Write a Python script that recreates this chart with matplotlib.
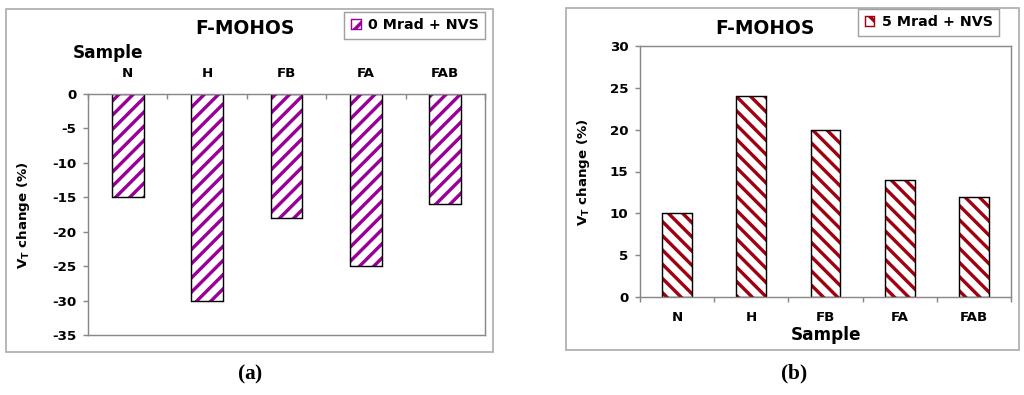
import matplotlib
matplotlib.use('Agg')
import matplotlib.pyplot as plt
import numpy as np
from matplotlib.patches import Rectangle, Patch

samples = ['N', 'H', 'FB', 'FA', 'FAB']
vt_0mrad = [-15, -30, -18, -25, -16]
vt_5mrad = [10, 24, 20, 14, 12]

plt.rcParams['font.family'] = 'DejaVu Sans'
plt.rcParams['font.weight'] = 'bold'
plt.rcParams['axes.labelweight'] = 'bold'
plt.rcParams['axes.unicode_minus'] = False
plt.rcParams['hatch.linewidth'] = 1.9
plt.rcParams['mathtext.fontset'] = 'custom'
plt.rcParams['mathtext.sf'] = 'DejaVu Sans:bold'
plt.rcParams['mathtext.rm'] = 'Liberation Serif'
plt.rcParams['mathtext.bf'] = 'Liberation Serif:bold'

W, H = 1024, 395
DPI = 128
fig = plt.figure(figsize=(W / DPI, H / DPI), dpi=DPI)

def fx(px):
    return px / W

def fy(py):
    return 1 - py / H

purple = '#990099'
red = '#a00010'
gray = '#888888'

# outer frames
for x0, y0, x1, y1 in [(6, 9, 493, 352), (566, 8, 1019, 350)]:
    fig.patches.append(Rectangle((fx(x0), fy(y1)), fx(x1 - x0), (y1 - y0) / H,
                                 transform=fig.transFigure, fill=False,
                                 edgecolor='#b0b0b0', linewidth=1.0))

def hatched_bars(ax, vals, color, hatch):
    x = np.arange(len(vals))
    ax.bar(x, vals, width=0.4, facecolor='white', edgecolor=color, hatch=hatch, linewidth=0)
    ax.bar(x, vals, width=0.4, fill=False, edgecolor='black', linewidth=0.8)
    ax.set_xlim(-0.5, len(vals) - 0.5)
    ax.set_xticks(x)
    ax.set_xticklabels(samples)
    ax.set_xticks(np.arange(len(vals) + 1) - 0.5, minor=True)
    for s in ax.spines.values():
        s.set_color(gray)
    ax.tick_params(axis='y', colors=gray, labelcolor='black', labelsize=7.5, length=3, width=0.8)
    ax.tick_params(axis='x', which='major', length=0, labelsize=7.5, labelcolor='black')
    ax.tick_params(axis='x', which='minor', colors=gray, length=3, width=0.8)

def legend_box(label, color, hatch, right, top):
    leg = fig.legend(handles=[Patch(facecolor='white', edgecolor=color, hatch=hatch, linewidth=0.8)],
                     labels=[label], loc='upper right',
                     bbox_to_anchor=(fx(right), fy(top)), borderaxespad=0, fancybox=False,
                     edgecolor=gray, fontsize=8, handlelength=0.7, handleheight=0.7,
                     handletextpad=0.5, borderpad=0.45)
    leg.get_frame().set_linewidth(0.8)
    return leg

# (a)
ax1 = fig.add_axes([fx(88), fy(335), fx(485 - 88), (335 - 94) / H])
hatched_bars(ax1, vt_0mrad, purple, '///')
ax1.set_ylim(-35, 0)
ax1.set_yticks(np.arange(-35, 1, 5))
ax1.xaxis.tick_top()
ax1.tick_params(axis='x', which='major', pad=8)
ax1.tick_params(axis='x', which='minor', direction='in')
fig.text(fx(108), fy(53), 'Sample', ha='center', va='center', fontsize=9.5)
fig.text(fx(245), fy(29), 'F-MOHOS', ha='center', va='center', fontsize=10.5)
fig.text(fx(24), fy(215), r'$\mathsf{V_T}$ change (%)', rotation=90, ha='center', va='center', fontsize=7.5)
legend_box('0 Mrad + NVS', purple, '//', 485, 12)
fig.text(fx(250), fy(374), r'$\mathrm{(}\mathbf{a}\mathrm{)}$', ha='center', va='center', fontsize=12)

# (b)
ax2 = fig.add_axes([fx(640), fy(297), fx(1011 - 640), (297 - 46) / H])
hatched_bars(ax2, vt_5mrad, red, '\\\\\\')
ax2.set_ylim(0, 30)
ax2.set_yticks(np.arange(0, 31, 5))
ax2.tick_params(axis='x', which='major', pad=8)
ax2.set_xlabel('Sample', fontsize=9.5, labelpad=1)
fig.text(fx(765), fy(29), 'F-MOHOS', ha='center', va='center', fontsize=10.5)
fig.text(fx(584), fy(172), r'$\mathsf{V_T}$ change (%)', rotation=90, ha='center', va='center', fontsize=7.5)
legend_box('5 Mrad + NVS', red, '\\\\', 999, 9)
fig.text(fx(794), fy(374), r'$\mathrm{(}\mathbf{b}\mathrm{)}$', ha='center', va='center', fontsize=12)

fig.savefig('out.png', dpi=DPI)
